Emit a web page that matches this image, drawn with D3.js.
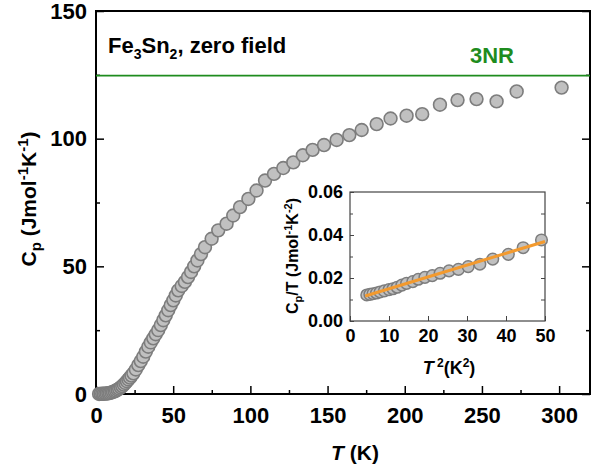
<!DOCTYPE html>
<html>
<head>
<meta charset="utf-8">
<script src="https://cdn.jsdelivr.net/npm/d3@7"></script>
<style>
  body { margin: 0; background: #fff; }
  text { font-family: "Liberation Sans", Arial, sans-serif; font-weight: bold; }
</style>
</head>
<body>
<div id="chart"></div>
<script>
// main curve: temperature (K) and heat capacity (J/mol/K)
const tempK = [2, 3, 4, 5, 6, 7, 8, 9, 10, 11, 12, 13, 14, 15, 16, 17, 18, 19, 20, 21, 22, 23,
  24.2, 25.8, 27.4, 29, 30.6, 32.3, 33.9, 35.5, 37.1, 38.7, 40.3, 42, 43.6, 45.2, 46.8, 48.4,
  50.1, 51.7, 53.3, 55.5, 57.6, 59.6, 61.6, 63.6, 65.7, 68, 70.6, 74.9, 79.2, 84.6, 88.9, 93.3,
  98.7, 104, 109.5, 115.3, 121.3, 127.8, 134, 140.3, 147.7, 155.9, 164.1, 172.1, 181.8,
  190.8, 201.2, 211.3, 222.8, 234.2, 246.5, 259.5, 272.5, 301.6];
const heatCap = [0.02, 0.04, 0.07, 0.1, 0.15, 0.22, 0.3, 0.42, 0.6, 0.8, 1.05, 1.35, 1.7, 2.1,
  2.6, 3.1, 3.7, 4.3, 5.0, 5.7, 6.4, 7.2, 8.1, 9.6, 11.3, 12.9, 14.6, 16.6, 18.5, 20.2, 21.8,
  23.4, 25, 27, 28.9, 30.8, 32.8, 34.8, 36.7, 38.6, 40.6, 42.3, 43.9, 45.8, 47.8, 50, 52.3,
  54.8, 57.5, 60.8, 64.1, 66.7, 69.9, 73.2, 76.4, 79.7, 83.6, 86.2, 88.5, 90.7, 93.5, 95.6,
  97.5, 99.5, 101.4, 103.4, 105.7, 107.9, 109.0, 109.6, 113.3, 115.1, 115.5, 114.6, 118.5, 120.0];

// inset: T^2 (K^2) vs Cp/T
const tSq = [4.3, 5.1, 5.9, 6.8, 7.7, 8.8, 10, 11, 12.1, 13.3, 14.5, 16.1, 17.5, 19.2, 21.1,
  23.1, 25.4, 27.8, 30.3, 33.3, 36.6, 40.6, 44.4, 49.1];
const cpOverT = [0.0121, 0.0124, 0.0127, 0.013, 0.0135, 0.014, 0.0146, 0.015, 0.0157, 0.0167,
  0.0175, 0.0183, 0.0194, 0.0203, 0.0211, 0.0222, 0.0233, 0.024, 0.0253, 0.0264, 0.0288,
  0.031, 0.0341, 0.0377];
// linear fit Cp/T = gamma + beta*T^2, drawn between fitRange
const fitGamma = 0.0095, fitBeta = 0.00055;
const fitRange = [3.9, 50];

const threeNR = 124.7;

const W = 606, H = 466;
const svg = d3.select('#chart').append('svg').attr('width', W).attr('height', H);

const x = d3.scaleLinear().domain([0, 320]).range([96, 590]);
const y = d3.scaleLinear().domain([0, 150]).range([394, 11]);

function tickAxis(g, axis) {
  g.call(axis);
  g.select('.domain').remove();
  g.selectAll('.tick line').attr('stroke', '#000').attr('stroke-width', 1.5);
  return g;
}

// minor ticks
tickAxis(svg.append('g').attr('transform', `translate(0,${y(0)})`),
  d3.axisBottom(x).tickValues(d3.range(25, 320, 50)).tickSize(-4).tickFormat(''));
tickAxis(svg.append('g').attr('transform', `translate(${x(0)},0)`),
  d3.axisLeft(y).tickValues([25, 75, 125]).tickSize(-4).tickFormat(''));
tickAxis(svg.append('g').attr('transform', `translate(${x(320)},0)`),
  d3.axisRight(y).tickValues([25, 75, 125]).tickSize(-4).tickFormat(''));

// major ticks
const xAx = tickAxis(svg.append('g').attr('transform', `translate(0,${y(0)})`),
  d3.axisBottom(x).tickValues([0, 50, 100, 150, 200, 250, 300]).tickSize(-8).tickPadding(13));
xAx.selectAll('text').attr('font-size', 22).attr('fill', '#000').attr('dy', '0.71em');
const yAx = tickAxis(svg.append('g').attr('transform', `translate(${x(0)},0)`),
  d3.axisLeft(y).tickValues([0, 50, 100, 150]).tickSize(-8).tickPadding(9));
yAx.selectAll('text').attr('font-size', 22).attr('fill', '#000');
tickAxis(svg.append('g').attr('transform', `translate(${x(320)},0)`),
  d3.axisRight(y).tickValues([0, 50, 100, 150]).tickSize(-8).tickFormat(''));

// frame
svg.append('rect').attr('x', x(0)).attr('y', y(150))
  .attr('width', x(320) - x(0)).attr('height', y(0) - y(150))
  .attr('fill', 'none').attr('stroke', '#000').attr('stroke-width', 2);

// 3NR line
svg.append('line').attr('x1', x(0)).attr('x2', x(320))
  .attr('y1', y(threeNR)).attr('y2', y(threeNR))
  .attr('stroke', '#1e8c1e').attr('stroke-width', 1.8);
svg.append('text').attr('x', 492).attr('y', 63)
  .attr('text-anchor', 'middle').attr('font-size', 22).attr('fill', '#1e8c1e').text('3NR');

// sample label
const lab = svg.append('text').attr('x', 108).attr('y', 53).attr('font-size', 22).attr('fill', '#000');
lab.append('tspan').text('Fe');
lab.append('tspan').attr('font-size', 14).attr('dy', 6).text('3');
lab.append('tspan').attr('dy', -6).text('Sn');
lab.append('tspan').attr('font-size', 14).attr('dy', 6).text('2');
lab.append('tspan').attr('dy', -6).text(', zero field');

// main data
svg.append('g').selectAll('circle')
  .data(tempK.map((t, i) => [t, heatCap[i]])).join('circle')
  .attr('cx', d => x(d[0])).attr('cy', d => y(d[1])).attr('r', 6.4)
  .attr('fill', '#c0c0c0').attr('stroke', '#7d7d7d').attr('stroke-width', 1.6);

// axis titles
const yt = svg.append('text').attr('transform', 'translate(36,199) rotate(-90)')
  .attr('text-anchor', 'middle').attr('font-size', 21).attr('fill', '#000');
yt.append('tspan').text('C');
yt.append('tspan').attr('font-size', 15).attr('dy', 5).text('p');
yt.append('tspan').attr('dy', -5).text(' (Jmol');
yt.append('tspan').attr('font-size', 15).attr('dy', -8).text('-1');
yt.append('tspan').attr('dy', 8).text('K');
yt.append('tspan').attr('font-size', 15).attr('dy', -8).text('-1');
yt.append('tspan').attr('dy', 8).text(')');

const xt = svg.append('text').attr('x', 355).attr('y', 460)
  .attr('text-anchor', 'middle').attr('font-size', 21).attr('fill', '#000');
xt.append('tspan').attr('font-style', 'italic').text('T');
xt.append('tspan').text(' (K)');

// ---- inset ----
const ix = d3.scaleLinear().domain([0, 50]).range([350, 545]);
const iy = d3.scaleLinear().domain([0, 0.06]).range([321, 192]);

function insetTicks(g) {
  g.select('.domain').remove();
  g.selectAll('.tick line').attr('stroke', '#444').attr('stroke-width', 1);
  return g;
}
insetTicks(svg.append('g').attr('transform', `translate(${ix(0)},0)`)
  .call(d3.axisLeft(iy).tickValues([0.01, 0.03, 0.05]).tickSize(-3).tickFormat('')));
insetTicks(svg.append('g').attr('transform', `translate(${ix(50)},0)`)
  .call(d3.axisRight(iy).tickValues([0.01, 0.02, 0.03, 0.04, 0.05]).tickSize(-4).tickFormat('')));
const iyAx = insetTicks(svg.append('g').attr('transform', `translate(${ix(0)},0)`)
  .call(d3.axisLeft(iy).tickValues([0, 0.02, 0.04, 0.06]).tickSize(-4).tickPadding(7)
    .tickFormat(d3.format('.2f'))));
iyAx.selectAll('text').attr('font-size', 18).attr('fill', '#000');
const ixAx = insetTicks(svg.append('g').attr('transform', `translate(0,${iy(0)})`)
  .call(d3.axisBottom(ix).tickValues([0, 10, 20, 30, 40, 50]).tickSize(-5).tickPadding(8)));
ixAx.selectAll('text').attr('font-size', 18).attr('fill', '#000').attr('dy', '0.71em');

svg.append('rect').attr('x', ix(0)).attr('y', iy(0.06))
  .attr('width', ix(50) - ix(0)).attr('height', iy(0) - iy(0.06))
  .attr('fill', 'none').attr('stroke', '#444').attr('stroke-width', 1.2);

svg.append('g').selectAll('circle')
  .data(tSq.map((t, i) => [t, cpOverT[i]])).join('circle')
  .attr('cx', d => ix(d[0])).attr('cy', d => iy(d[1])).attr('r', 5.8)
  .attr('fill', '#c0c0c0').attr('stroke', '#7d7d7d').attr('stroke-width', 1.5);

svg.append('line')
  .attr('x1', ix(fitRange[0])).attr('y1', iy(fitGamma + fitBeta * fitRange[0]))
  .attr('x2', ix(fitRange[1])).attr('y2', iy(fitGamma + fitBeta * fitRange[1]))
  .attr('stroke', '#f39a2e').attr('stroke-width', 3);

const iyt = svg.append('text').attr('transform', 'translate(298,256) rotate(-90)')
  .attr('text-anchor', 'middle').attr('font-size', 16).attr('fill', '#000');
iyt.append('tspan').text('C');
iyt.append('tspan').attr('font-size', 11).attr('dy', 4).text('p');
iyt.append('tspan').attr('dy', -4).text('/T (Jmol');
iyt.append('tspan').attr('font-size', 11).attr('dy', -6).text('-1');
iyt.append('tspan').attr('dy', 6).text('K');
iyt.append('tspan').attr('font-size', 11).attr('dy', -6).text('-2');
iyt.append('tspan').attr('dy', 6).text(')');

const ixt = svg.append('text').attr('x', 449).attr('y', 374)
  .attr('text-anchor', 'middle').attr('font-size', 18).attr('fill', '#000');
ixt.append('tspan').attr('font-style', 'italic').text('T');
ixt.append('tspan').attr('font-size', 12).attr('dy', -7).text(' 2');
ixt.append('tspan').attr('dy', 7).text('(K');
ixt.append('tspan').attr('font-size', 12).attr('dy', -7).text('2');
ixt.append('tspan').attr('dy', 7).text(')');
</script>
</body>
</html>
